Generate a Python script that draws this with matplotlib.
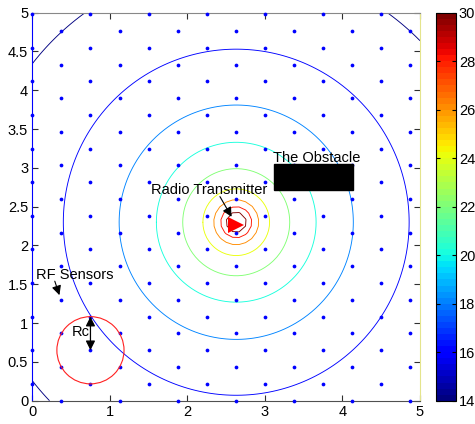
import numpy as np
import matplotlib
matplotlib.use('Agg')
import matplotlib.pyplot as plt
from matplotlib.patches import Rectangle, Circle
from matplotlib.ticker import FuncFormatter
import matplotlib.cm as cm
import matplotlib.colors as mcolors

plt.rcParams['font.family'] = ['Liberation Sans', 'DejaVu Sans']

# signal level contours around the transmitter (dB) and their radii
levels = [14, 16, 18, 20, 22, 24, 26, 28, 30]
radii = [3.33, 2.23, 1.51, 1.03, 0.69, 0.43, 0.29, 0.20, 0.13]
tx_pos = (2.63, 2.30)

# hexagonal sensor lattice
sensor_dx = 0.375
sensor_dy = 0.433
rc_center = (0.75, 0.65)
rc_radius = 0.433

# obstacle block
obst_xy = (3.12, 2.71)
obst_w, obst_h = 1.01, 0.34

cmap = plt.get_cmap('jet', 64)
norm = mcolors.Normalize(vmin=14, vmax=30)

fig = plt.figure(figsize=(4.75, 4.24), dpi=100)
ax = fig.add_axes([32.3/475, 23.3/424, 387.7/475, 388/424])
cax = fig.add_axes([436/475, 23.3/424, 20/475, 388/424])

# contour lines from a distance field (coarse grid near the source)
gx = np.linspace(0, 5, 101)
X, Y = np.meshgrid(gx, gx)
D = np.hypot(X - tx_pos[0], Y - tx_pos[1])
outer = [i for i in np.argsort(radii) if radii[i] > 0.35]
inner = [i for i in np.argsort(radii) if radii[i] <= 0.35]
ax.contour(X, Y, D, levels=[radii[i] for i in outer],
           colors=[cmap(norm(levels[i])) for i in outer], linewidths=0.65)
cx = np.linspace(0, 5, 61)
CX, CY = np.meshgrid(cx, cx)
CD = np.hypot(CX - tx_pos[0], CY - tx_pos[1])
ax.contour(CX, CY, CD, levels=[radii[i] for i in inner],
           colors=[cmap(norm(levels[i])) for i in inner], linewidths=0.65)

# sensors
cols = np.arange(0, 5 + 1e-9, sensor_dx)
sx, sy = [], []
for i, x in enumerate(cols):
    y0 = 0.0 if i % 2 == 1 else sensor_dy / 2
    ys = np.arange(y0, 5 + 0.02, sensor_dy)
    sx.extend([x] * len(ys))
    sy.extend(ys)
ax.plot(sx, sy, 'o', color='#0000ff', ms=2.7, mew=0, clip_on=False, zorder=3)

# transmitter
ax.plot(tx_pos[0], tx_pos[1] - 0.03, '>', color='red', ms=11, mew=0, zorder=4)

# sensing range of one sensor
ax.add_patch(Circle(rc_center, rc_radius, fill=False, ec='#ff2020', lw=0.8, zorder=3))

# obstacle
ax.add_patch(Rectangle(obst_xy, obst_w, obst_h, color='black', zorder=4))

tfs = 10.5
ax.text(3.11, 3.08, 'The Obstacle', fontsize=tfs, va='baseline', ha='left')
ax.text(1.53, 2.66, 'Radio Transmitter', fontsize=tfs, va='baseline', ha='left')
ax.text(0.05, 1.57, 'RF Sensors', fontsize=tfs, va='baseline', ha='left')
ax.text(0.51, 0.835, 'Rc', fontsize=tfs, va='baseline', ha='left')

arrow = dict(arrowstyle='-|>', color='black', lw=0.8, mutation_scale=14,
             shrinkA=0, shrinkB=0)
ax.annotate('', xy=(2.57, 2.37), xytext=(2.42, 2.63), arrowprops=arrow)
ax.annotate('', xy=(0.35, 1.36), xytext=(0.29, 1.54), arrowprops=arrow)
ax.annotate('', xy=(0.75, 1.083), xytext=(0.75, 0.65),
            arrowprops=dict(arrowstyle='<|-|>', color='black', lw=0.9,
                            mutation_scale=14, shrinkA=0, shrinkB=0), zorder=5)

ax.set_xlim(0, 5)
ax.set_ylim(0, 5)
ax.set_xticks(np.arange(0, 5.01, 1))
ax.set_yticks(np.arange(0, 5.01, 0.5))
fmt = FuncFormatter(lambda v, p: '%g' % v)
ax.xaxis.set_major_formatter(fmt)
ax.yaxis.set_major_formatter(fmt)
ax.tick_params(direction='in', length=4, width=0.8, labelsize=10.5, pad=3,
               top=True, right=True, colors='#303030', labelcolor='black')
ax.spines['left'].set_color('#0000ff')
ax.spines['right'].set_color('#e4e48c')
ax.spines['top'].set_color('#888888')
ax.spines['bottom'].set_color('#505050')

sm = cm.ScalarMappable(norm=norm, cmap=cmap)
cb = fig.colorbar(sm, cax=cax, ticks=np.arange(14, 31, 2))
cb.outline.set_linewidth(0.8)
cax.tick_params(direction='in', length=3, labelsize=10.5, pad=2, left=True, right=True)

fig.savefig('out.png', dpi=100)
